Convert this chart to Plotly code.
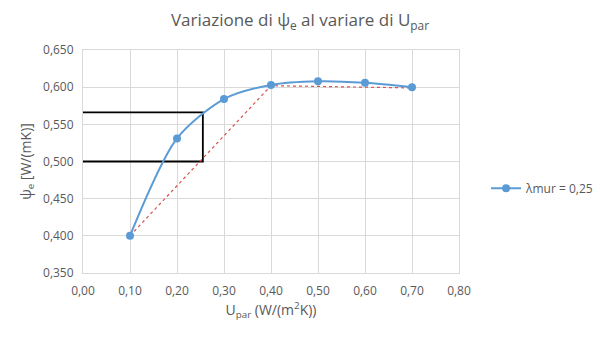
import plotly.graph_objects as go

u_par = [0.10, 0.20, 0.30, 0.40, 0.50, 0.60, 0.70]
psi_e = [0.400, 0.531, 0.584, 0.603, 0.608, 0.606, 0.600]
series_name = "λmur = 0,25"

ref_x = [0.10, 0.40, 0.70]
ref_y = [0.400, 0.602, 0.599]

rect_x = [0.0, 0.255, 0.255, 0.0]
rect_y = [0.566, 0.566, 0.500, 0.500]

x_ticks = [0.0, 0.1, 0.2, 0.3, 0.4, 0.5, 0.6, 0.7, 0.8]
y_ticks = [0.35, 0.40, 0.45, 0.50, 0.55, 0.60, 0.65]

GRAY = "#595959"
GRID = "#d9d9d9"
BLUE = "#5b9bd5"

fig = go.Figure()
fig.add_trace(go.Scatter(x=rect_x, y=rect_y, mode="lines",
                         line=dict(color="black", width=1.8),
                         showlegend=False, hoverinfo="skip"))
fig.add_trace(go.Scatter(x=ref_x, y=ref_y, mode="lines",
                         line=dict(color="#d9534f", width=1.2, dash="dot"),
                         showlegend=False, hoverinfo="skip"))
fig.add_trace(go.Scatter(x=u_par, y=psi_e, mode="lines+markers", name=series_name,
                         line=dict(color=BLUE, width=2, shape="spline", smoothing=0.8),
                         marker=dict(color=BLUE, size=8)))

fig.update_layout(
    width=600, height=340,
    margin=dict(l=83, r=141, t=50, b=67, autoexpand=False),
    paper_bgcolor="white", plot_bgcolor="white",
    separators=", ",
    font=dict(family="Open Sans", color=GRAY, size=12),
    title=dict(text="Variazione di ψ<sub>e</sub> al variare di U<sub>par</sub>",
               x=0.5, xanchor="center", y=0.94, yanchor="middle",
               font=dict(size=17, color=GRAY)),
    legend=dict(x=1.072, xanchor="left", y=0.38, yanchor="middle",
                font=dict(size=12, color=GRAY), bgcolor="rgba(0,0,0,0)"),
    xaxis=dict(range=[0, 0.8], tickvals=x_ticks, tickformat=".2f",
               showgrid=True, gridcolor=GRID, gridwidth=1, zeroline=False,
               showline=True, linecolor=GRID, mirror=True,
               ticks="", ticklabelstandoff=7,
               tickfont=dict(size=12, color=GRAY),
               title=dict(text="U<sub>par</sub> (W/(m<sup>2</sup>K))",
                          font=dict(size=14, color=GRAY), standoff=6)),
    yaxis=dict(range=[0.35, 0.65], tickvals=y_ticks, tickformat=".3f",
               showgrid=True, gridcolor=GRID, gridwidth=1, zeroline=False,
               showline=True, linecolor=GRID, mirror=True,
               ticks="", ticklabelstandoff=6,
               tickfont=dict(size=12, color=GRAY),
               title=dict(text="ψ<sub>e</sub> [W/(mK)]",
                          font=dict(size=14, color=GRAY), standoff=8)),
)

fig.write_html("out.html")
